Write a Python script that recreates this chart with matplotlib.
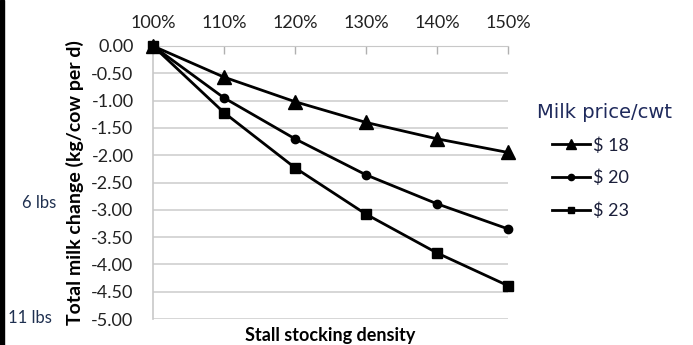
import matplotlib
matplotlib.use("Agg")
import matplotlib.pyplot as plt
from matplotlib.patches import Rectangle

# Stall stocking density (% of stalls) and milk change per cow
density = [100, 110, 120, 130, 140, 150]
density_labels = ["100%", "110%", "120%", "130%", "140%", "150%"]
price_18 = [0.00, -0.57, -1.02, -1.40, -1.70, -1.95]
price_20 = [0.00, -0.95, -1.70, -2.36, -2.89, -3.35]
price_23 = [0.00, -1.22, -2.23, -3.08, -3.79, -4.39]
series_names = ["$ 18", "$ 20", "$ 23"]
y_ticks = [0.0, -0.5, -1.0, -1.5, -2.0, -2.5, -3.0, -3.5, -4.0, -4.5, -5.0]

plt.rcParams["font.family"] = ["Lato", "DejaVu Sans"]
plt.rcParams["text.color"] = "#222222"

fig = plt.figure(figsize=(6.93, 3.45), dpi=100)
ax = fig.add_axes([153 / 693, 1 - 319 / 345, 355 / 693, 273 / 345])

grid_c = "#d0d0d0"
ax.set_xlim(100, 150)
ax.set_ylim(-5.0, 0.0)
ax.set_yticks(y_ticks)
ax.set_yticklabels([f"{v:.2f}" for v in y_ticks], fontsize=13, color="#222222")
ax.set_xticks(density)
ax.set_xticklabels(density_labels, fontsize=13, color="#222222")
ax.xaxis.tick_top()
ax.tick_params(axis="x", direction="in", length=6, color="#b0b0b0", pad=11, width=1)
ax.tick_params(axis="y", length=0, pad=14)
for y in y_ticks:
    ax.axhline(y, color=grid_c, lw=1.2, zorder=0)
for s in ["right", "bottom"]:
    ax.spines[s].set_visible(False)
ax.spines["left"].set_color("#c8c8c8")
ax.spines["top"].set_color("#c8c8c8")
ax.spines["left"].set_linewidth(1.2)

lw = 2.0
ax.plot(density, price_18, color="black", lw=lw, marker="^", ms=10, clip_on=False, label=series_names[0], zorder=3)
ax.plot(density, price_20, color="black", lw=lw, marker="o", ms=6, clip_on=False, label=series_names[1], zorder=3)
ax.plot(density, price_23, color="black", lw=lw, marker="s", ms=6.5, clip_on=False, label=series_names[2], zorder=3)

ax.set_ylabel("Total milk change (kg/cow per d)", fontsize=14, fontweight="bold")
ax.yaxis.set_label_coords(-(153 - 75) / 355, 0.5)
ax.yaxis.label.set_verticalalignment("center")
ax.set_xlabel("Stall stocking density", fontsize=13, fontweight="bold")
ax.xaxis.set_label_position("bottom")
ax.xaxis.set_label_coords(0.5, -0.03)
ax.xaxis.label.set_verticalalignment("top")

# Legend: title drawn as its own text, entries indented below it
fig.text(537 / 693, 1 - 112 / 345, "Milk price/cwt", fontsize=14, color="#1f2a5c",
         family=["DejaVu Sans"], va="center", ha="left")
leg = ax.legend(loc="upper left", bbox_to_anchor=(552 / 693, 1 - 137 / 345),
                bbox_transform=fig.transFigure, frameon=False, fontsize=13,
                handlelength=2.1, handletextpad=0.15, markerscale=0.75,
                labelspacing=0.9, borderaxespad=0, borderpad=0)
for t in leg.get_texts():
    t.set_color("#1b1f3a")

fig.text(22 / 693, 1 - 203 / 345, "6 lbs", fontsize=12, color="#1f3050", va="center", ha="left")
fig.text(8 / 693, 1 - 318 / 345, "11 lbs", fontsize=12, color="#1f3050", va="center", ha="left")

fig.patches.append(Rectangle((0, 0), 3.5 / 693, 1, transform=fig.transFigure, color="black", zorder=5))

fig.savefig("out.png", dpi=100)
